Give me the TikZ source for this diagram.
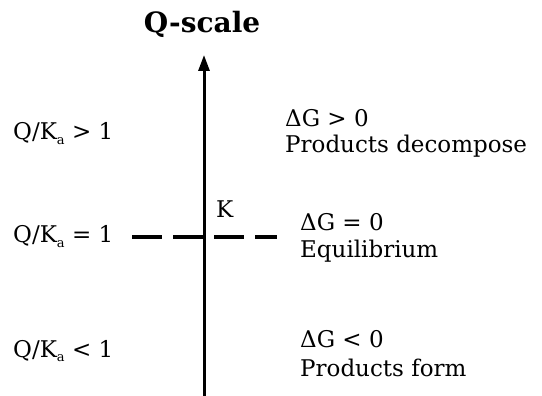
\documentclass[tikz,border=0pt]{standalone}
\usepackage{fontspec}
\setmainfont{DejaVu Serif}
\usetikzlibrary{arrows.meta}
\tikzset{
  lbl/.style={font=\fontsize{23}{27}\selectfont, inner sep=0pt, anchor=base west},
  axis/.style={line width=3pt, -{Triangle[width=11pt,length=16pt]}},
  eqline/.style={line width=3.2pt, dash pattern=on 30pt off 11pt}
}
\newcommand{\qka}{Q/K\raisebox{-0.4ex}{\fontsize{13}{13}\selectfont a}}
\begin{document}
\begin{tikzpicture}[x=1pt,y=-1pt]
\useasboundingbox (0,0) rectangle (542,396);
\node[font=\bfseries\fontsize{28}{30}\selectfont, inner sep=0pt, anchor=base] (title) at (202,33) {Q-scale};
\coordinate (bot) at (204,398);
\coordinate (top) at (204,55);
\draw[axis] (bot) -- (top);
\coordinate (dl) at (132,237);
\coordinate (dr) at (277,237);
\draw[eqline] (dl) -- (dr);
\node[lbl] (k) at (216,218) {K};
\node[lbl] (q1) at (13,140) {\qka{} > 1};
\node[lbl] (q2) at (13,243) {\qka{} = 1};
\node[lbl] (q3) at (13,357) {\qka{} < 1};
\node[lbl] (r1a) at (285,127) {ΔG > 0};
\node[lbl] (r1b) at (285,153) {Products decompose};
\node[lbl] (r2a) at (300,230) {ΔG = 0};
\node[lbl] (r2b) at (300,258) {Equilibrium};
\node[lbl] (r3a) at (300,348) {ΔG < 0};
\node[lbl] (r3b) at (300,376) {Products form};
\end{tikzpicture}
\end{document}
